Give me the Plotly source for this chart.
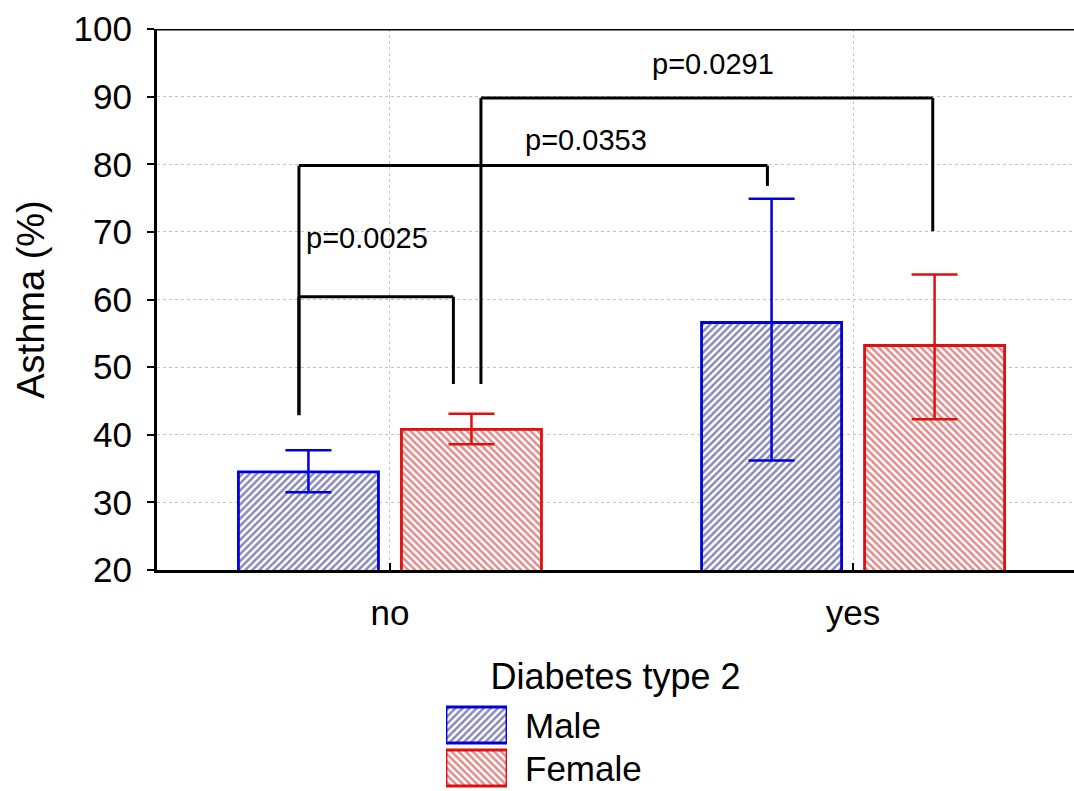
import plotly.graph_objects as go

# ---- data ----
categories = ["no", "yes"]
series_names = ["Male", "Female"]
male_values = [34.5, 56.6]
male_err_plus = [3.2, 18.3]
male_err_minus = [3.0, 20.4]
female_values = [40.8, 53.2]
female_err_plus = [2.3, 10.5]
female_err_minus = [2.2, 10.9]

x_title = "Diabetes type 2"
y_title = "Asthma (%)"
y_ticks = [20, 30, 40, 50, 60, 70, 80, 90, 100]

# significance brackets
bracket_x_left = [-0.1965, -0.1965, 0.1965]
bracket_x_right = [0.137, 0.815, 1.172]
bracket_y_left_bottom = [42.9, 42.9, 47.5]
bracket_y_right_bottom = [47.5, 76.8, 70.1]
bracket_y_top = [60.4, 79.8, 89.8]
p_labels = ["p=0.0025", "p=0.0353", "p=0.0291"]
p_label_x = [-0.0486, 0.423, 0.697]
p_label_y = [69.1, 83.6, 94.8]

# ---- style ----
W, H = 1074, 791
FONT = "Liberation Sans, Arial, sans-serif"
BLUE = "#0000e0"
RED = "#e01010"
BLUE_HATCH = "#141470"
RED_HATCH = "#c41818"

def px_x(p):
    return p / W

def px_y(p):
    return (H - p) / H

main_x_domain = [px_x(157), 1.0]
main_y_domain = [px_y(570), px_y(29)]

fig = go.Figure()

fig.add_trace(go.Bar(
    name=series_names[0], x=categories, y=male_values,
    marker=dict(color="white", line=dict(color=BLUE, width=2.8),
                pattern=dict(shape="/", fgcolor=BLUE_HATCH, bgcolor="white",
                             size=5, solidity=0.5, fillmode="overlay")),
    error_y=dict(type="data", symmetric=False, array=male_err_plus,
                 arrayminus=male_err_minus, color=BLUE, thickness=2.5, width=23),
    showlegend=False, xaxis="x", yaxis="y",
))
fig.add_trace(go.Bar(
    name=series_names[1], x=categories, y=female_values,
    marker=dict(color="white", line=dict(color=RED, width=2.8),
                pattern=dict(shape="\\", fgcolor=RED_HATCH, bgcolor="white",
                             size=5, solidity=0.5, fillmode="overlay")),
    error_y=dict(type="data", symmetric=False, array=female_err_plus,
                 arrayminus=female_err_minus, color=RED, thickness=2.5, width=23),
    showlegend=False, xaxis="x", yaxis="y",
))

# legend drawn as a small bar subplot
fig.add_trace(go.Bar(
    x=[1, 1], y=series_names, orientation="h", width=0.837,
    marker=dict(color="white", line=dict(color=[BLUE, RED], width=2.8),
                pattern=dict(shape=["/", "\\"], fgcolor=[BLUE_HATCH, RED_HATCH],
                             bgcolor="white", size=5, solidity=0.5, fillmode="overlay")),
    showlegend=False, xaxis="x2", yaxis="y2", hoverinfo="skip",
))

shapes = []
for xl, xr, yl, yr, yt in zip(bracket_x_left, bracket_x_right, bracket_y_left_bottom,
                              bracket_y_right_bottom, bracket_y_top):
    for (a, b, c, d) in [(xl, yl, xl, yt), (xl, yt, xr, yt), (xr, yt, xr, yr)]:
        shapes.append(dict(type="line", xref="x", yref="y", x0=a, y0=b, x1=c, y1=d,
                           line=dict(color="black", width=3)))
# top frame line
shapes.append(dict(type="line", xref="paper", yref="y", x0=main_x_domain[0], x1=1,
                   y0=100, y1=100, line=dict(color="black", width=3)))

annotations = []
for t, ax_, ay_ in zip(p_labels, p_label_x, p_label_y):
    annotations.append(dict(text=t, x=ax_, y=ay_, xref="x", yref="y", showarrow=False,
                            xanchor="center", yanchor="middle",
                            font=dict(family=FONT, size=29, color="black")))
for name in series_names:
    annotations.append(dict(text=name, x=px_x(523), y=name, xref="paper", yref="y2",
                            showarrow=False, xanchor="left", yanchor="middle",
                            font=dict(family=FONT, size=35, color="black")))

fig.update_layout(
    width=W, height=H, autosize=False,
    margin=dict(l=0, r=0, t=0, b=0, pad=0, autoexpand=False),
    paper_bgcolor="white", plot_bgcolor="white",
    barmode="group", bargap=0.296, bargroupgap=0.141,
    font=dict(family=FONT, color="black"),
    shapes=shapes, annotations=annotations,
    xaxis=dict(
        domain=main_x_domain, type="category", range=[-0.503, 1.477],
        showline=True, linecolor="black", linewidth=3,
        ticks="inside", ticklen=7, tickwidth=2, tickcolor="black",
        tickfont=dict(family=FONT, size=35), ticklabelstandoff=10,
        showgrid=True, gridcolor="#c4c4c4", griddash="dot", gridwidth=1,
        title=dict(text=x_title, font=dict(family=FONT, size=36), standoff=33),
        anchor="y", zeroline=False, automargin=False,
    ),
    yaxis=dict(
        domain=main_y_domain, range=[20, 100], tickvals=y_ticks,
        showline=True, linecolor="black", linewidth=3,
        ticks="outside", ticklen=7, tickwidth=2, tickcolor="black",
        tickfont=dict(family=FONT, size=35), ticklabelstandoff=8,
        showgrid=True, gridcolor="#c4c4c4", griddash="dot", gridwidth=1,
        title=dict(text=y_title, font=dict(family=FONT, size=38), standoff=18),
        anchor="x", zeroline=False, automargin=False,
    ),
    xaxis2=dict(domain=[px_x(446), px_x(507)], range=[0, 1], visible=False,
                anchor="y2", fixedrange=True, automargin=False),
    yaxis2=dict(domain=[0, px_y(703.5)], type="category", categoryorder="array",
                categoryarray=[series_names[1], series_names[0]],
                range=[-0.535, 1.5], visible=False, anchor="x2", fixedrange=True,
                automargin=False),
)

post = (
    "document.documentElement.style.margin='0';"
    "document.body.style.margin='0';"
    "document.body.style.padding='0';"
    "document.body.style.overflow='hidden';"
    "var gd=document.getElementById('{plot_id}');"
    "Plotly.relayout(gd,{width:%d,height:%d});" % (W, H)
)

fig.write_html("out.html", post_script=post, config={"displayModeBar": False})
